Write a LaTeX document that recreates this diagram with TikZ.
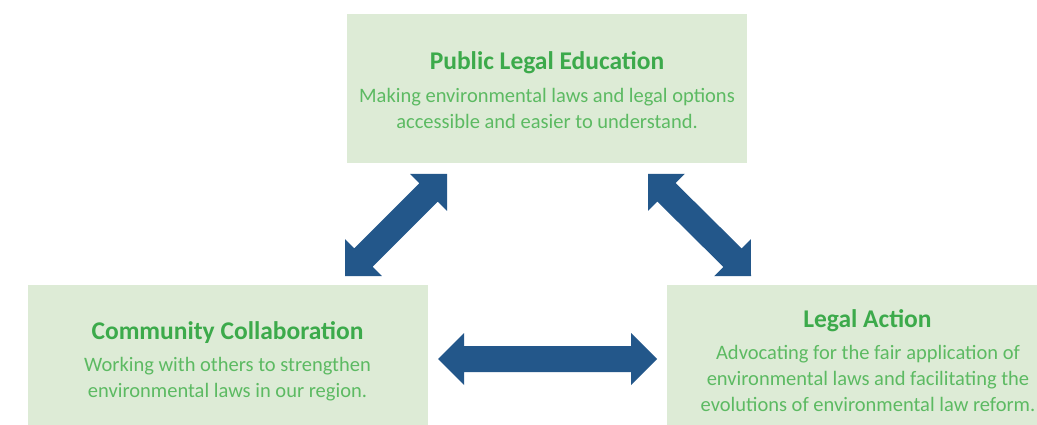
\documentclass[tikz,border=0pt]{standalone}
\usepackage{fontspec}
\setmainfont{Carlito}
\usetikzlibrary{calc}
\definecolor{boxfill}{HTML}{DDEBD6}
\definecolor{titlegreen}{HTML}{3CAA4B}
\definecolor{bodygreen}{HTML}{5CBA62}
\definecolor{arrowblue}{HTML}{23578A}
\tikzset{
  box/.style={fill=boxfill, draw=none, inner sep=0},
  boxtitle/.style={font=\bfseries\fontsize{25.5}{28}\selectfont, text=titlegreen, inner sep=0},
  boxbody/.style={font=\fontsize{20.5}{26}\selectfont, text=bodygreen, align=center, inner sep=0},
  blockarrow/.style={fill=arrowblue, draw=none},
}
\newcommand\dblblockarrow[2]{%
  \fill[blockarrow] (#1)
    -- ($(#1)!26pt!(#2)!26pt!90:(#2)$)
    -- ($(#1)!26pt!(#2)!13pt!90:(#2)$)
    -- ($(#2)!26pt!(#1)!13pt!-90:(#1)$)
    -- ($(#2)!26pt!(#1)!26pt!-90:(#1)$)
    -- (#2)
    -- ($(#2)!26pt!(#1)!26pt!90:(#1)$)
    -- ($(#2)!26pt!(#1)!13pt!90:(#1)$)
    -- ($(#1)!26pt!(#2)!13pt!-90:(#2)$)
    -- ($(#1)!26pt!(#2)!26pt!-90:(#2)$)
    -- cycle;}
\begin{document}
\begin{tikzpicture}[x=1pt,y=-1pt]
  \useasboundingbox[fill=white] (0,0) rectangle (1037,425);
  % boxes
  \node[box, minimum width=400pt, minimum height=149pt] (pub) at (547,88.5) {};
  \node[box, minimum width=400pt, minimum height=140pt] (com) at (228,355) {};
  \node[box, minimum width=370pt, minimum height=140pt] (act) at (852,355) {};
  % texts
  \node[boxtitle] (pubt) at (547,62.5) {Public Legal Education};
  \node[boxbody] (pubb) at (547,108) {Making environmental laws and legal options\\accessible and easier to understand.};
  \node[boxtitle] (comt) at (227.5,332.5) {Community Collaboration};
  \node[boxbody] (comb) at (227.5,379) {Working with others to strengthen\\environmental laws in our region.};
  \node[boxtitle] (actt) at (867.5,320.5) {Legal Action};
  \node[boxbody] (actb) at (868,378.5) {Advocating for the fair application of\\environmental laws and facilitating the\\evolutions of environmental law reform.};
  % arrow end points
  \coordinate (pubL) at (447,174);
  \coordinate (comT) at (345,276);
  \coordinate (pubR) at (648,174);
  \coordinate (actT) at (751,276);
  \coordinate (comR) at (438,359);
  \coordinate (actL) at (657,359);
  \dblblockarrow{pubL}{comT}
  \dblblockarrow{pubR}{actT}
  \dblblockarrow{comR}{actL}
\end{tikzpicture}
\end{document}
